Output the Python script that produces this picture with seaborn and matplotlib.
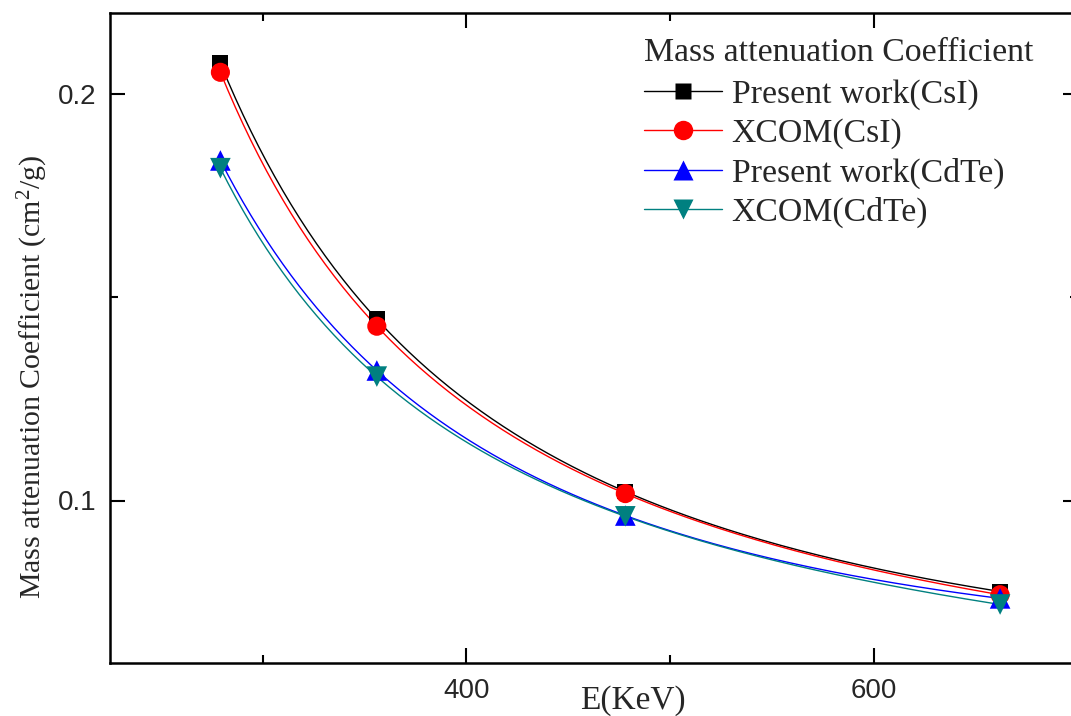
import numpy as np
import pandas as pd
import seaborn as sns
import matplotlib as mpl
import matplotlib.pyplot as plt
from matplotlib.lines import Line2D
from matplotlib.ticker import MultipleLocator, AutoMinorLocator

# photon energies (keV) and mass attenuation coefficients (cm^2/g)
energy = [279.2, 356.0, 478.0, 662.0]
csi_present = [0.2076, 0.1446, 0.1022, 0.0776]
csi_xcom = [0.2054, 0.1429, 0.1017, 0.0768]
cdte_present = [0.1837, 0.1320, 0.0963, 0.0759]
cdte_xcom = [0.1818, 0.1305, 0.0961, 0.0744]

labels = ["Present work(CsI)", "XCOM(CsI)", "Present work(CdTe)", "XCOM(CdTe)"]
colors = ["black", "red", "blue", "#008080"]
markers = ["s", "o", "^", "v"]
sizes = [130, 190, 220, 220]

if __name__ == '__main__':
    sns.set_style("white")
    mpl.rcParams['font.family'] = ['Liberation Serif', 'DejaVu Serif']
    mpl.rcParams['mathtext.fontset'] = 'custom'
    mpl.rcParams['mathtext.rm'] = 'Liberation Serif'
    mpl.rcParams['mathtext.it'] = 'Liberation Serif:italic'

    df = pd.DataFrame({
        "E": energy * 4,
        "mu": csi_present + csi_xcom + cdte_present + cdte_xcom,
        "series": np.repeat(labels, len(energy)),
    })

    fig = plt.figure(figsize=(10.71, 7.16), dpi=100)
    ax = fig.add_axes([110 / 1071, 53 / 716, 967.5 / 1071, 650 / 716])

    # smooth connecting curves (spline-like, drawn in log-log space)
    for lab, col in zip(labels, colors):
        sub = df[df.series == lab]
        lx, ly = np.log(sub.E.values), np.log(sub.mu.values)
        coef = np.polyfit(lx, ly, 3)
        xs = np.linspace(lx.min(), lx.max(), 200)
        ax.plot(np.exp(xs), np.exp(np.polyval(coef, xs)), color=col, lw=1.0, zorder=2)

    for lab, col, m, s in zip(labels, colors, markers, sizes):
        sub = df[df.series == lab]
        sns.scatterplot(data=sub, x="E", y="mu", color=col, marker=m, s=s,
                        edgecolor="none", ax=ax, zorder=3, legend=False)

    ax.set_xlim(225, 700)
    ax.set_ylim(0.06, 0.22)
    ax.xaxis.set_major_locator(MultipleLocator(200))
    ax.xaxis.set_minor_locator(AutoMinorLocator(2))
    ax.yaxis.set_major_locator(MultipleLocator(0.1))
    ax.yaxis.set_minor_locator(AutoMinorLocator(2))
    ax.tick_params(which='both', direction='in', top=True, right=True,
                   bottom=True, left=True, width=1.5, color='black')
    ax.tick_params(which='major', length=11)
    ax.tick_params(which='minor', length=6)
    for t in ax.get_xticklabels() + ax.get_yticklabels():
        t.set_family('Liberation Sans')
        t.set_fontsize(20)
    ax.tick_params(axis='x', pad=11)
    ax.tick_params(axis='y', pad=10)
    for sp in ax.spines.values():
        sp.set_linewidth(1.8)
        sp.set_color('black')

    ax.set_xlabel("E(KeV)", fontsize=24)
    ax.xaxis.set_label_coords(0.54, -0.034)
    ax.set_ylabel("Mass attenuation Coefficient (cm$^{2}$/g)", fontsize=21.5)
    ax.yaxis.set_label_coords(-0.062, 0.44)

    handles = [Line2D([], [], color=c, marker=m, lw=1.0, markersize=11 if m == "s" else 14,
                      markeredgecolor="none") for c, m in zip(colors, markers)]
    leg = fig.legend(handles, labels, title="Mass attenuation Coefficient",
                     loc="upper left", bbox_to_anchor=(644 / 1071, 1 - 37.5 / 716),
                     frameon=False, fontsize=24.3, title_fontsize=24.3,
                     handlelength=2.3, handletextpad=0.3, labelspacing=0.245,
                     borderaxespad=0, borderpad=0, alignment="left")
    leg._legend_box.sep = 8

    fig.savefig("out.png", dpi=100)
